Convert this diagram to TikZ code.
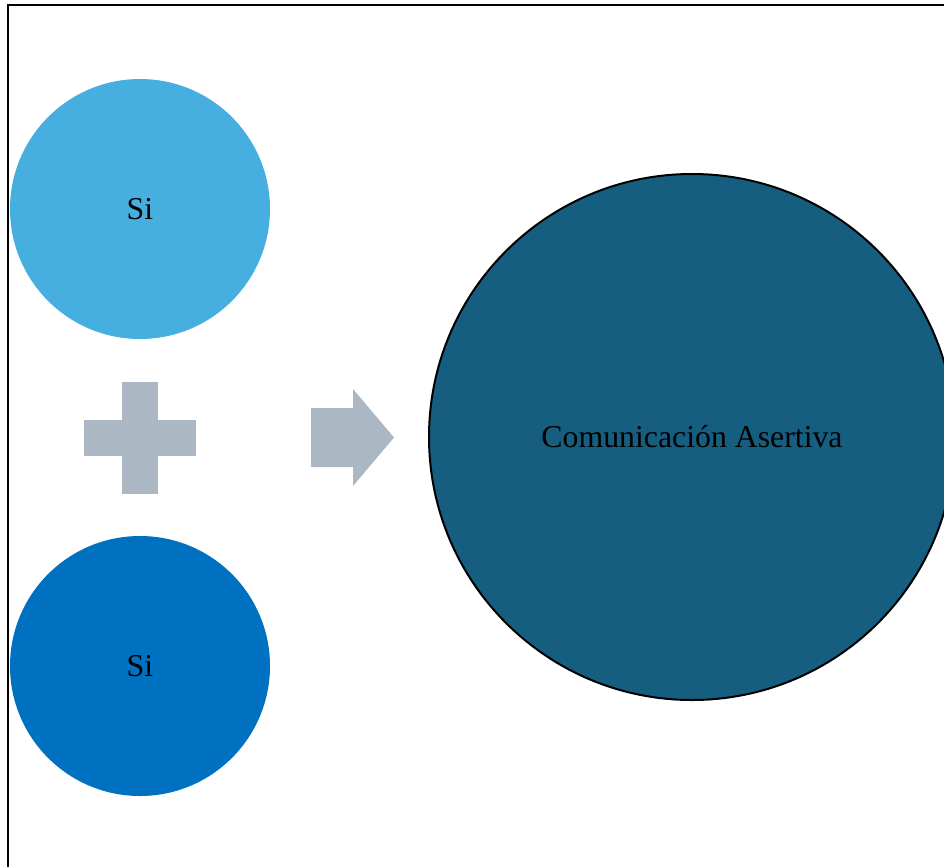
\documentclass[tikz,border=0pt]{standalone}
\usepackage{fontspec}
\setmainfont{Liberation Serif}
\definecolor{skyblue}{HTML}{47AFE0}
\definecolor{midblue}{HTML}{0070C0}
\definecolor{deepteal}{HTML}{165E80}
\definecolor{shapegray}{HTML}{ABB7C2}
\begin{document}
\begin{tikzpicture}[x=1pt,y=-1pt,
  bubble/.style={circle,inner sep=0pt,font=\fontsize{31.8}{38}\selectfont},
  shapefill/.style={fill=shapegray,draw=none}]
\useasboundingbox (0,0) rectangle (944,867);
\clip (0,0) rectangle (944,867);
% frame
\draw[line width=2pt] (7.5,867) -- (7.5,5.5) -- (944,5.5);
% input circles
\node[bubble,fill=skyblue,minimum size=260pt] (top) at (140,209) {Si};
\node[bubble,fill=midblue,minimum size=260pt] (bottom) at (140,666) {Si};
% result circle
\node[bubble,fill=deepteal,draw=black,line width=2pt,minimum size=526pt] (result) at (692,437) {Comunicación Asertiva};
% plus sign
\fill[shapefill] (122,382) rectangle (158,494);
\fill[shapefill] (84,420) rectangle (196,456);
% arrow
\fill[shapefill] (311,408) -- (353,408) -- (353,389) -- (394,437.5) -- (353,486) -- (353,467) -- (311,467) -- cycle;
\end{tikzpicture}
\end{document}
